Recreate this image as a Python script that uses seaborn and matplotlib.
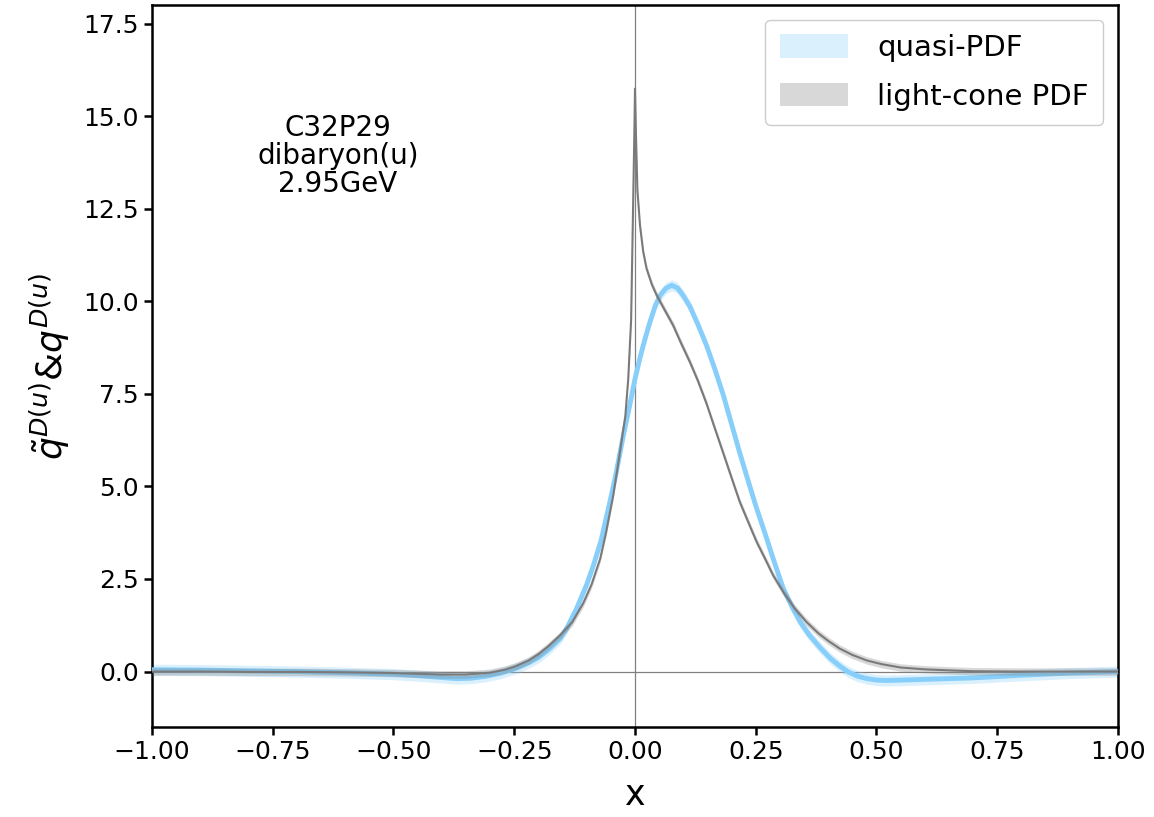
import numpy as np
import pandas as pd
import matplotlib
matplotlib.use("Agg")
import matplotlib.pyplot as plt
import seaborn as sns

# ---------------- data ----------------
quasi_x = [-1.0, -0.9, -0.8, -0.7, -0.6, -0.5, -0.45, -0.4, -0.37, -0.34, -0.31, -0.28,
           -0.26, -0.24, -0.22, -0.2, -0.18, -0.155, -0.14, -0.121, -0.1, -0.086, -0.07,
           -0.052, -0.04, -0.024, -0.01, 0.0, 0.01, 0.02, 0.031, 0.042, 0.052, 0.064,
           0.076, 0.088, 0.1, 0.114, 0.13, 0.148, 0.165, 0.183, 0.2, 0.217, 0.235,
           0.252, 0.27, 0.286, 0.307, 0.325, 0.342, 0.36, 0.383, 0.405, 0.424, 0.44,
           0.46, 0.48, 0.5, 0.52, 0.55, 0.6, 0.7, 0.8, 0.9, 1.0]
quasi_y = [0.05, 0.04, 0.02, 0.0, -0.03, -0.07, -0.11, -0.16, -0.19, -0.18, -0.13, -0.05,
           0.03, 0.12, 0.24, 0.38, 0.58, 0.89, 1.2, 1.70, 2.35, 2.87, 3.55,
           4.58, 5.3, 6.38, 7.25, 7.9, 8.45, 8.95, 9.44, 9.88, 10.16, 10.35,
           10.43, 10.36, 10.15, 9.85, 9.38, 8.81, 8.18, 7.46, 6.68, 5.9, 5.12,
           4.40, 3.7, 3.05, 2.24, 1.75, 1.34, 1.0, 0.65, 0.35, 0.15, 0.0,
           -0.12, -0.19, -0.23, -0.24, -0.23, -0.21, -0.17, -0.1, -0.04, 0.0]

lc_x = [-1.0, -0.9, -0.8, -0.7, -0.6, -0.5, -0.45, -0.4, -0.35, -0.3, -0.27, -0.25,
        -0.22, -0.2, -0.18, -0.155, -0.13, -0.107, -0.09, -0.072, -0.06, -0.045,
        -0.035, -0.024, -0.02, -0.014, -0.008, -0.004, -0.001, 0.0, 0.002, 0.005,
        0.0104, 0.017, 0.024, 0.035, 0.045, 0.06, 0.079, 0.095, 0.114, 0.13, 0.148,
        0.165, 0.183, 0.2, 0.217, 0.235, 0.252, 0.27, 0.286, 0.307, 0.33, 0.355,
        0.38, 0.4, 0.424, 0.45, 0.48, 0.511, 0.55, 0.6, 0.656, 0.7, 0.8, 0.9, 1.0]
lc_y = [0.0, 0.0, -0.01, -0.01, -0.02, -0.04, -0.06, -0.08, -0.08, -0.03, 0.05, 0.13,
        0.3, 0.47, 0.68, 0.98, 1.33, 1.85, 2.35, 3.05, 3.75, 4.76,
        5.6, 6.56, 6.9, 7.9, 9.5, 12.5, 14.8, 15.74, 14.5, 13.0,
        12.05, 11.34, 10.88, 10.45, 10.16, 9.8, 9.35, 8.88, 8.35, 7.86, 7.24,
        6.58, 5.89, 5.23, 4.58, 4.02, 3.50, 3.03, 2.60, 2.15, 1.72, 1.34,
        1.03, 0.83, 0.62, 0.45, 0.3, 0.2, 0.11, 0.06, 0.03, 0.01, 0.0, 0.0, 0.0]

quasi_err = 0.15
lc_err = 0.1

labels = ["quasi-PDF", "light-cone PDF"]
annot_text = "C32P29\ndibaryon(u)\n2.95GeV"
x_ticks = [-1.0, -0.75, -0.5, -0.25, 0.0, 0.25, 0.5, 0.75, 1.0]
y_ticks = [0.0, 2.5, 5.0, 7.5, 10.0, 12.5, 15.0, 17.5]

# ---------------- plot ----------------
sns.set_style("ticks")
plt.rcParams["font.family"] = ["DejaVu Sans"]
plt.rcParams["mathtext.fontset"] = "dejavusans"

fig = plt.figure(figsize=(11.54, 8.17), dpi=100)
ax = fig.add_axes([0.1317, 0.110, 0.8371, 0.8839])

blue = "#87CEFA"
grey = "#7a7a7a"

dq = pd.DataFrame({"x": quasi_x, "y": quasi_y})
dl = pd.DataFrame({"x": lc_x, "y": lc_y})

qy = np.array(quasi_y)
ly = np.array(lc_y)
hq = ax.fill_between(quasi_x, qy - quasi_err, qy + quasi_err, color=blue, alpha=0.3,
                     lw=0, label=labels[0], zorder=2)
sns.lineplot(data=dq, x="x", y="y", ax=ax, color=blue, lw=3.5, sort=False, zorder=3)
hl = ax.fill_between(lc_x, ly - lc_err, ly + lc_err, color="grey", alpha=0.3,
                     lw=0, label=labels[1], zorder=4)
sns.lineplot(data=dl, x="x", y="y", ax=ax, color=grey, lw=1.5, sort=False, zorder=5)

ax.axhline(0, color="grey", lw=0.9, zorder=1)
ax.axvline(0, color="grey", lw=0.9, zorder=1)

ax.set_xlim(-1.0, 1.0)
ax.set_ylim(-1.5, 18.0)
ax.set_xticks(x_ticks)
ax.set_yticks(y_ticks)
ax.set_xticklabels([f"{v:.2f}".replace("-", "\u2212") for v in x_ticks])
ax.set_yticklabels([f"{v:.1f}" for v in y_ticks])
ax.tick_params(axis="both", labelsize=18, length=6, width=1.8, color="black",
               labelcolor="black", direction="out")
for s in ax.spines.values():
    s.set_linewidth(1.8)
    s.set_color("black")

ax.set_xlabel("x", fontsize=25, color="black", labelpad=10)
ax.set_ylabel(r"$\tilde{q}^{D(u)}$&$q^{D(u)}$", fontsize=26, color="black", labelpad=8)

ax.text(-0.615, 13.93, annot_text, ha="center", va="center", fontsize=20,
        linespacing=1.0, color="black")

leg = ax.legend(handles=[hq, hl], labels=labels, loc="upper right", fontsize=21,
                frameon=True, fancybox=True, framealpha=1.0, edgecolor="#cccccc",
                handlelength=2.35, handleheight=0.85, borderpad=0.5, labelspacing=0.7,
                handletextpad=1.0, borderaxespad=0.5)
for t in leg.get_texts():
    t.set_color("black")

fig.savefig("out.png", dpi=100)
